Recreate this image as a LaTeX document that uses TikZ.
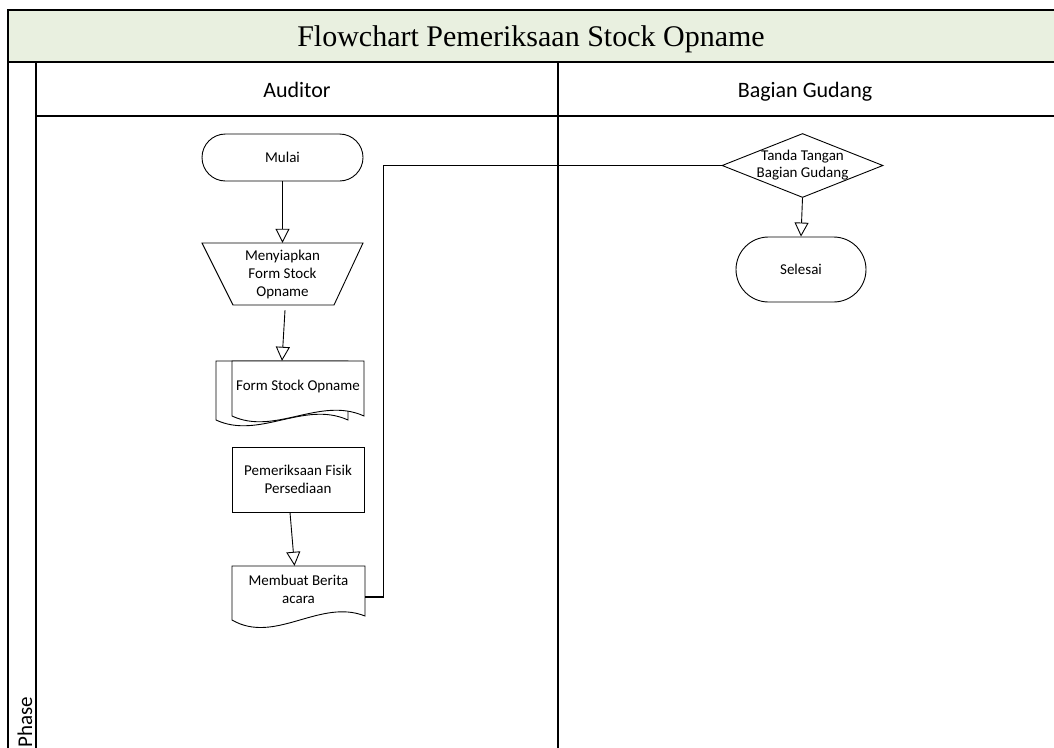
\documentclass[tikz,border=0pt]{standalone}
\usepackage{fontspec}
\setmainfont{Carlito}
\newfontfamily\titlefont{Liberation Serif}
\usetikzlibrary{arrows.meta,shapes.misc,shapes.geometric,backgrounds}
\definecolor{titlefill}{RGB}{233,240,224}
\begin{document}
\begin{tikzpicture}[x=1pt,y=-1pt,
  lbl/.style={font=\fontsize{15}{18}\selectfont, align=center, inner sep=0pt},
  frameline/.style={line width=1.5pt, line cap=rect},
  shp/.style={draw, line width=0.9pt},
  flow/.style={line width=0.9pt, -{Triangle[open, length=14pt, width=14pt]}},
  link/.style={line width=1.4pt}]
\clip (0,0) rectangle (1054,747);
% swimlane frame
\fill[titlefill] (8,10) rectangle (1070,62);
\draw[frameline] (1070,10) -- (8,10) -- (8,770);
\draw[frameline] (8,62) -- (1070,62);
\draw[frameline] (36,62) -- (36,770);
\draw[frameline] (36,116) -- (1070,116);
\draw[frameline] (558,62) -- (558,770);
% titles
\node[font=\titlefont\fontsize{30}{34}\selectfont, anchor=base, inner sep=0pt] (title) at (531,46) {Flowchart Pemeriksaan Stock Opname};
\node[font=\fontsize{22}{26}\selectfont, anchor=base, inner sep=0pt] (lane1) at (297,97) {Auditor};
\node[font=\fontsize{22}{26}\selectfont, anchor=base, inner sep=0pt] (lane2) at (805,97) {Bagian Gudang};
\node[font=\fontsize{21}{24}\selectfont, rotate=90, anchor=base west, inner sep=0pt] (phase) at (32,748) {Phase};
% shapes outlines drawn by path
\begin{scope}[on background layer]
  \filldraw[fill=white, line width=0.9pt] (202,243) -- (363,243) -- (334,305) -- (233,305) -- cycle;
  \filldraw[fill=white, line width=0.9pt] (216,361) -- (216,420) .. controls (259,440) and (304,400) .. (348,420) -- (348,361) -- cycle;
  \filldraw[fill=white, line width=0.9pt] (232,361) -- (232,416) .. controls (275,436) and (320,396) .. (364,416) -- (364,361) -- cycle;
  \filldraw[fill=white, line width=0.9pt] (232,566) -- (232,620) .. controls (275,645) and (320,598) .. (365,616) -- (365,566) -- cycle;
\end{scope}
% nodes
\node[shp, lbl, rounded rectangle, minimum width=161pt, minimum height=47pt] (start) at (282.5,157.5) {Mulai};
\node[lbl, minimum width=161pt, minimum height=62pt] (prep) at (282.5,274) {Menyiapkan\\Form Stock\\Opname};
\node[lbl, minimum width=132pt, minimum height=50pt] (form) at (298,386) {Form Stock Opname};
\node[shp, lbl, minimum width=132pt, minimum height=65pt] (cek) at (298,479.5) {Pemeriksaan Fisik\\Persediaan};
\node[lbl, minimum width=133pt, minimum height=46pt] (berita) at (298.5,589) {Membuat Berita\\acara};
\node[shp, diamond, minimum width=161pt, minimum height=64pt, inner sep=0pt] (sign) at (802.5,165.5) {};
\node[lbl, font=\fontsize{15}{16.5}\selectfont] (signtxt) at (802.5,165) {Tanda Tangan\\Bagian Gudang};
\node[shp, lbl, rounded rectangle, minimum width=130pt, minimum height=65pt] (finish) at (801,269.5) {Selesai};
% connectors
\draw[flow] (start.south) -- (prep.north);
\draw[flow] ([shift={(2.5,5)}]prep.south) -- ([xshift=-16pt]form.north);
\draw[flow] ([xshift=-8pt]cek.south) -- ([xshift=-4pt]berita.north);
\draw[link] ([yshift=-8pt]berita.east) -- ++(18,0) |- (sign.west);
\draw[flow] (sign.south) -- (finish.north);
\end{tikzpicture}
\end{document}
